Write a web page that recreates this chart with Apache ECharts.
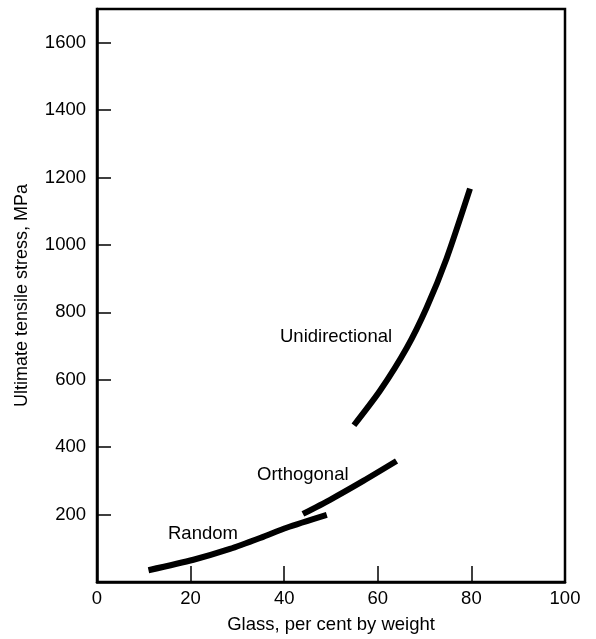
<!DOCTYPE html>
<html>
<head>
<meta charset="utf-8">
<script src="https://cdn.jsdelivr.net/npm/echarts@6/dist/echarts.min.js"></script>
<style>
  html, body { margin: 0; padding: 0; background: #fff; }
  #chart { width: 596px; height: 639px; }
</style>
</head>
<body>
<div id="chart"></div>
<script>
// Glass content (% by weight) vs. ultimate tensile stress (MPa)
const randomX = [11, 20.6, 28.4, 35.5, 40.5, 49.1];
const randomY = [35, 66, 98, 134, 161, 199];

const orthogonalX = [44, 49.8, 56.9, 64];
const orthogonalY = [202, 244, 300, 359];

const unidirectionalX = [54.9, 60.5, 66.2, 70.4, 74.7, 79.7];
const unidirectionalY = [465, 568, 695, 813, 960, 1167];

const xTicks = [0, 20, 40, 60, 80, 100];
const yTicks = [200, 400, 600, 800, 1000, 1200, 1400, 1600];

const curveNames = ['Random', 'Orthogonal', 'Unidirectional'];

const FONT = '"Liberation Sans", Arial, Helvetica, sans-serif';
const INK = '#000';

function pairs(xs, ys) { return xs.map((x, i) => [x, ys[i]]); }

function curve(name, xs, ys) {
  return {
    name: name,
    type: 'line',
    smooth: 0.25,
    symbol: 'none',
    data: pairs(xs, ys),
    lineStyle: { color: INK, width: 6, cap: 'butt', join: 'round' },
    silent: true
  };
}

const chart = echarts.init(document.getElementById('chart'), null, { renderer: 'canvas' });

chart.setOption({
  animation: false,
  backgroundColor: '#fff',
  grid: {
    left: 97, right: 31, top: 9, bottom: 53,
    show: true, borderColor: INK, borderWidth: 2.5, backgroundColor: 'transparent'
  },
  xAxis: {
    type: 'value',
    min: 0, max: 100, interval: 20,
    name: 'Glass, per cent by weight',
    nameLocation: 'middle',
    nameGap: 33,
    nameTextStyle: { fontFamily: FONT, fontSize: 18.5, color: INK },
    axisLine: { show: true, lineStyle: { color: INK, width: 2.5 } },
    axisTick: { show: true, inside: true, length: 16, lineStyle: { color: INK, width: 1.5 } },
    axisLabel: {
      margin: 7, fontFamily: FONT, fontSize: 18.5, color: INK,
      formatter: v => (xTicks.includes(v) ? String(v) : '')
    },
    splitLine: { show: false }
  },
  yAxis: {
    type: 'value',
    min: 0, max: 1700, interval: 200,
    name: 'Ultimate tensile stress, MPa',
    nameLocation: 'middle',
    nameGap: 66,
    nameTextStyle: { fontFamily: FONT, fontSize: 18, color: INK },
    axisLine: { show: true, lineStyle: { color: INK, width: 2.5 } },
    axisTick: { show: true, inside: true, length: 14, lineStyle: { color: INK, width: 1.5 } },
    axisLabel: {
      margin: 11, fontFamily: FONT, fontSize: 18.5, color: INK,
      formatter: v => (yTicks.includes(v) ? String(v) : '')
    },
    splitLine: { show: false }
  },
  series: [
    curve(curveNames[0], randomX, randomY),
    curve(curveNames[1], orthogonalX, orthogonalY),
    curve(curveNames[2], unidirectionalX, unidirectionalY)
  ],
  graphic: [
    { type: 'text', left: 168, top: 524, style: { text: curveNames[0], font: '18.5px ' + FONT, fill: INK } },
    { type: 'text', left: 257, top: 465, style: { text: curveNames[1], font: '18.5px ' + FONT, fill: INK } },
    { type: 'text', left: 280, top: 327, style: { text: curveNames[2], font: '18.5px ' + FONT, fill: INK } }
  ]
});
</script>
</body>
</html>
